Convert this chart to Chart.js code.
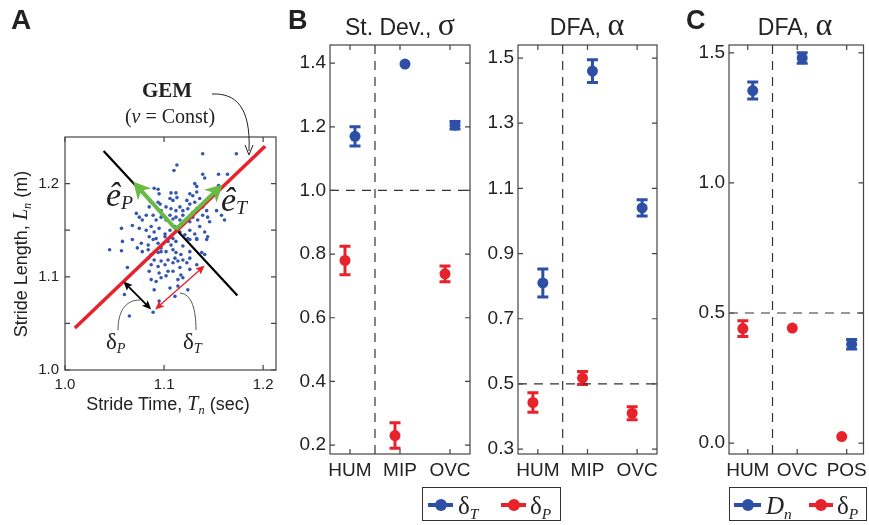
<!DOCTYPE html>
<html>
<head>
<meta charset="utf-8">
<script src="https://cdn.jsdelivr.net/npm/chart.js@4.4.0/dist/chart.umd.min.js"></script>
<style>
body { margin: 0; background: #fff; }
#wrap { position: relative; width: 869px; height: 525px; overflow: hidden; font-family: 'Liberation Sans', Arial, sans-serif; color: #222; }
canvas { position: absolute; left: 0; top: 0; }
svg { position: absolute; left: 0; top: 0; }
.t { position: absolute; line-height: 1; white-space: nowrap; }
.serif { font-family: 'Liberation Serif', 'Times New Roman', serif; }
.sub { font-size: 0.62em; vertical-align: -0.3em; line-height: 0; font-style: italic; }
.big { line-height: 0; font-family: 'Liberation Serif', 'Times New Roman', serif; }
.lg { position: absolute; border: 1px solid #333; background: #fff; box-sizing: border-box; }
.lg .ln { position: absolute; height: 4px; }
.lg .dot { position: absolute; width: 12px; height: 12px; border-radius: 50%; }
</style>
</head>
<body>
<div id="wrap">
  <canvas id="cA" width="869" height="525"></canvas>
  <canvas id="cB1" width="869" height="525"></canvas>
  <canvas id="cB2" width="869" height="525"></canvas>
  <canvas id="cC" width="869" height="525"></canvas>

  <svg width="869" height="525">
    <path d="M212,94 C235,93 251,106 249,151" fill="none" stroke="#222" stroke-width="1"/>
    <path d="M245,145 L249,155 L253,145" fill="none" stroke="#222" stroke-width="1"/>
    <path d="M140,300 C125,300 118,312 118,330" fill="none" stroke="#555" stroke-width="1"/>
    <path d="M180,293 C192,294 196,310 196,330" fill="none" stroke="#555" stroke-width="1"/>
  </svg>

  <!-- panel letters -->
  <div class="t" style="left:11px;top:6px;font-size:28px;font-weight:bold;">A</div>
  <div class="t" style="left:288px;top:7px;font-size:27px;font-weight:bold;">B</div>
  <div class="t" style="left:686px;top:7px;font-size:27px;font-weight:bold;">C</div>

  <!-- panel A annotations -->
  <div class="t serif" style="left:167px;top:80px;font-size:21px;font-weight:bold;transform:translateX(-50%);">GEM</div>
  <div class="t serif" style="left:170px;top:106px;font-size:20px;transform:translateX(-50%);">(<i>v</i> = Const)</div>
  <div class="t serif" style="left:106px;top:178px;font-size:34px;"><i>ê</i><span class="sub" style="font-size:0.58em;vertical-align:-0.15em;">P</span></div>
  <div class="t serif" style="left:221px;top:183px;font-size:34px;"><i>ê</i><span class="sub" style="font-size:0.58em;vertical-align:-0.15em;">T</span></div>
  <div class="t serif" style="left:106px;top:330px;font-size:23px;">δ<span class="sub">P</span></div>
  <div class="t serif" style="left:183px;top:330px;font-size:23px;">δ<span class="sub">T</span></div>
  <div class="t" style="left:168px;top:395px;font-size:18px;transform:translateX(-50%);">Stride Time, <span class="serif" style="font-style:italic;font-size:20px;line-height:0;">T<span class="sub">n</span></span> (sec)</div>
  <div class="t" style="left:21px;top:254px;font-size:18px;transform:translate(-50%,-50%) rotate(-90deg);">Stride Length, <span class="serif" style="font-style:italic;font-size:20px;line-height:0;">L<span class="sub">n</span></span> (m)</div>

  <!-- titles -->
  <div class="t" style="left:400px;top:16px;font-size:23px;transform:translateX(-50%);">St. Dev., <span class="big" style="font-size:32px;">σ</span></div>
  <div class="t" style="left:587px;top:16px;font-size:23px;transform:translateX(-50%);">DFA, <span class="big" style="font-size:32px;">α</span></div>
  <div class="t" style="left:795px;top:16px;font-size:23px;transform:translateX(-50%);">DFA, <span class="big" style="font-size:32px;">α</span></div>

  <!-- legends -->
  <div class="lg" style="left:422px;top:487px;width:139px;height:34px;">
    <div class="ln" style="left:5px;top:15px;width:25px;background:#2e4fa6;"></div>
    <div class="dot" style="left:12px;top:11px;background:#2e4fa6;"></div>
    <div class="t serif" style="left:35px;top:5px;font-size:25px;">δ<span class="sub">T</span></div>
    <div class="ln" style="left:78px;top:15px;width:25px;background:#e8222a;"></div>
    <div class="dot" style="left:85px;top:11px;background:#e8222a;"></div>
    <div class="t serif" style="left:107px;top:5px;font-size:25px;">δ<span class="sub">P</span></div>
  </div>
  <div class="lg" style="left:729px;top:487px;width:138px;height:34px;">
    <div class="ln" style="left:4px;top:15px;width:27px;background:#2e4fa6;"></div>
    <div class="dot" style="left:12px;top:11px;background:#2e4fa6;"></div>
    <div class="t serif" style="left:36px;top:5px;font-size:25px;"><i>D</i><span class="sub">n</span></div>
    <div class="ln" style="left:79px;top:15px;width:24px;background:#e8222a;"></div>
    <div class="dot" style="left:85px;top:11px;background:#e8222a;"></div>
    <div class="t serif" style="left:107px;top:5px;font-size:25px;">δ<span class="sub">P</span></div>
  </div>
</div>

<script>
// Panel A: stride time / stride length of each stride
const strideT = [1.139,1.173,1.113,1.110,1.139,1.155,1.164,1.141,1.131,1.133,1.155,1.090,1.094,1.095,1.107,1.112,1.126,1.129,1.133,1.094,1.096,1.106,1.109,1.113,1.123,1.126,1.131,1.136,1.085,1.097,1.102,
  1.107,1.112,1.116,1.119,1.124,1.129,1.133,1.139,1.143,1.072,1.075,1.078,1.082,
  1.089,1.092,1.097,1.102,1.106,1.109,1.112,1.116,1.119,1.123,1.126,1.129,1.134,1.139,1.144,1.146,1.153,1.158,1.161,1.057,
  1.068,1.075,1.082,1.087,1.090,1.095,1.101,1.106,1.111,1.116,1.121,1.126,1.131,1.136,1.141,1.144,
  1.085,1.092,1.101,1.109,1.124,1.133,
  1.058,1.068,1.077,1.084,1.089,1.094,1.097,1.104,1.107,1.112,1.119,1.126,1.133,1.143,
  1.045,1.057,1.073,1.078,1.084,1.087,1.094,1.097,1.102,1.109,1.112,1.117,1.126,1.138,1.141,
  1.084,1.090,1.097,1.104,1.111,1.114,1.119,1.126,
  1.087,1.094,1.101,1.109,1.116,1.123,1.133,
  1.063,1.085,1.095,1.104,1.109,1.117,1.126,
  1.087,1.092,1.097,1.102,1.114,1.119,
  1.090,1.106,1.114,1.124,
  1.060,1.111,
  1.095,
  1.065,
  1.089];
const strideL = [1.232,1.232,1.220,1.214,1.210,1.210,1.210,1.206,1.200,1.197,1.198,1.195,1.194,1.189,1.190,1.190,1.189,1.187,1.191,1.180,1.178,1.184,1.182,1.185,1.182,1.178,1.180,1.184,1.175,1.171,1.175,
  1.173,1.171,1.175,1.171,1.173,1.169,1.173,1.175,1.171,1.168,1.164,1.161,1.166,
  1.166,1.161,1.164,1.161,1.166,1.162,1.164,1.161,1.166,1.162,1.159,1.164,1.161,1.166,1.164,1.159,1.171,1.166,1.161,1.152,
  1.155,1.152,1.150,1.154,1.148,1.152,1.146,1.150,1.154,1.148,1.145,1.150,1.146,1.154,1.148,1.143,
  1.143,1.141,1.143,1.141,1.141,1.141,
  1.138,1.140,1.136,1.134,1.140,1.136,1.131,1.138,1.134,1.138,1.133,1.140,1.140,1.140,
  1.129,1.128,1.131,1.127,1.129,1.124,1.126,1.127,1.127,1.129,1.126,1.124,1.127,1.126,1.124,
  1.120,1.118,1.117,1.118,1.120,1.117,1.118,1.120,
  1.113,1.111,1.113,1.115,1.110,1.115,1.113,
  1.110,1.106,1.104,1.106,1.106,1.102,1.108,
  1.097,1.095,1.099,1.101,1.097,1.099,
  1.086,1.088,1.090,1.086,
  1.081,1.079,
  1.074,
  1.058,
  1.062];
const gemT = [1.01, 1.202], gemL = [1.045, 1.240];      // GEM line (v = const)
const perpT = [1.039, 1.174], perpL = [1.235, 1.080];   // perpendicular line
const meanTL = [1.112, 1.151];
const ePtip = [1.069, 1.202], eTtip = [1.159, 1.199];
const dPfrom = [1.059, 1.095], dPto = [1.087, 1.065];
const dTfrom = [1.091, 1.065], dTto = [1.141, 1.112];

// Panel B: HUM / MIP / OVC
const bCats = ['HUM', 'MIP', 'OVC'];
const sdT = [1.17, 1.397, 1.205], sdTErr = [0.03, 0, 0.012];
const sdP = [0.78, 0.23, 0.738], sdPErr = [0.045, 0.04, 0.025];
const dfaT = [0.81, 1.46, 1.04], dfaTErr = [0.043, 0.035, 0.025];
const dfaP = [0.443, 0.518, 0.41], dfaPErr = [0.03, 0.02, 0.02];

// Panel C: HUM / OVC / POS
const cCats = ['HUM', 'OVC', 'POS'];
const cDn = [1.355, 1.48, 0.38], cDnErr = [0.033, 0.02, 0.018];
const cP = [0.44, 0.442, 0.025], cPErr = [0.03, 0, 0];

const BLUE = '#2e4fa6', RED = '#e8222a', GREEN = '#6ab944';
const W = 869, H = 525;
const FONT = "'Liberation Sans', Arial, sans-serif";

function xy(xs, ys) { return xs.map((v, i) => ({x: v, y: ys[i]})); }
function atCats(vals, off) { return vals.map((v, i) => ({x: i + 1 + off, y: v})); }

// box with inward ticks on all four sides
const frame = {
  id: 'frame',
  afterDraw(chart) {
    const {ctx, chartArea: a, scales: {x, y}} = chart;
    const len = 5;
    ctx.save();
    ctx.strokeStyle = '#444';
    ctx.lineWidth = 1.2;
    ctx.beginPath();
    y.ticks.forEach(t => {
      const p = y.getPixelForValue(t.value);
      ctx.moveTo(a.left, p); ctx.lineTo(a.left + len, p);
      ctx.moveTo(a.right, p); ctx.lineTo(a.right - len, p);
    });
    x.ticks.forEach(t => {
      const p = x.getPixelForValue(t.value);
      ctx.moveTo(p, a.bottom); ctx.lineTo(p, a.bottom - len);
      ctx.moveTo(p, a.top); ctx.lineTo(p, a.top + len);
    });
    ctx.stroke();
    ctx.strokeRect(a.left, a.top, a.width, a.height);
    ctx.restore();
  }
};

function refLines(xs, ys) {
  return {
    id: 'refs',
    beforeDatasetsDraw(chart) {
      const {ctx, chartArea: a, scales: {x, y}} = chart;
      ctx.save();
      ctx.strokeStyle = '#333';
      ctx.lineWidth = 1.2;
      ctx.setLineDash([9, 7]);
      xs.forEach(v => {
        const p = x.getPixelForValue(v);
        ctx.beginPath(); ctx.moveTo(p, a.top); ctx.lineTo(p, a.bottom); ctx.stroke();
      });
      ys.forEach(v => {
        const p = y.getPixelForValue(v);
        ctx.beginPath(); ctx.moveTo(a.left, p); ctx.lineTo(a.right, p); ctx.stroke();
      });
      ctx.restore();
    }
  };
}

const errBars = {
  id: 'errBars',
  beforeDatasetsDraw(chart) {
    const {ctx, scales: {x, y}} = chart;
    chart.data.datasets.forEach(ds => {
      if (!ds.errors) return;
      ctx.save();
      ctx.strokeStyle = ds.backgroundColor;
      ctx.lineWidth = 3;
      ds.data.forEach((p, i) => {
        const e = ds.errors[i];
        if (!e) return;
        const px = x.getPixelForValue(p.x);
        const y1 = y.getPixelForValue(p.y + e), y2 = y.getPixelForValue(p.y - e);
        ctx.beginPath();
        ctx.moveTo(px, y1); ctx.lineTo(px, y2);
        ctx.moveTo(px - 5.5, y1); ctx.lineTo(px + 5.5, y1);
        ctx.moveTo(px - 5.5, y2); ctx.lineTo(px + 5.5, y2);
        ctx.stroke();
      });
      ctx.restore();
    });
  }
};

function drawHead(ctx, x1, y1, x2, y2, len, hw, notch) {
  const a = Math.atan2(y2 - y1, x2 - x1), c = Math.cos(a), s = Math.sin(a);
  ctx.beginPath();
  ctx.moveTo(x2, y2);
  ctx.lineTo(x2 - len * c + hw * s, y2 - len * s - hw * c);
  ctx.lineTo(x2 - len * notch * c, y2 - len * notch * s);
  ctx.lineTo(x2 - len * c - hw * s, y2 - len * s + hw * c);
  ctx.closePath();
  ctx.fill();
}

// arrows in data coordinates
function arrowPlugin(items) {
  return {
    id: 'arrows',
    afterDatasetsDraw(chart) {
      const {ctx, scales: {x, y}} = chart;
      items.forEach(it => {
        const x1 = x.getPixelForValue(it.from[0]), y1 = y.getPixelForValue(it.from[1]);
        const x2 = x.getPixelForValue(it.to[0]), y2 = y.getPixelForValue(it.to[1]);
        const d = Math.hypot(x2 - x1, y2 - y1), ux = (x2 - x1) / d, uy = (y2 - y1) / d;
        const cut = it.len * 0.6;
        ctx.save();
        ctx.strokeStyle = it.color; ctx.fillStyle = it.color; ctx.lineWidth = it.width;
        ctx.beginPath();
        ctx.moveTo(it.both ? x1 + ux * cut : x1, it.both ? y1 + uy * cut : y1);
        ctx.lineTo(x2 - ux * cut, y2 - uy * cut);
        ctx.stroke();
        drawHead(ctx, x1, y1, x2, y2, it.len, it.hw, it.notch);
        if (it.both) drawHead(ctx, x2, y2, x1, y1, it.len, it.hw, it.notch);
        ctx.restore();
      });
    }
  };
}

function makePanel(id, box, xr, yr, xt, yt, xfmt, yfmt, fs, xpad, ypad, datasets, extra) {
  return new Chart(document.getElementById(id), {
    type: 'scatter',
    data: {datasets: datasets},
    options: {
      responsive: false,
      animation: false,
      events: [],
      layout: {padding: {left: box.l - 50, right: W - box.r, top: box.t, bottom: H - box.b - 40}},
      plugins: {legend: {display: false}, tooltip: {enabled: false}},
      scales: {
        x: {
          type: 'linear', min: xr[0], max: xr[1],
          grid: {display: false, drawTicks: false}, border: {display: false},
          afterBuildTicks: s => { s.ticks = xt.map(v => ({value: v})); },
          afterFit: s => { s.height = 40; s.paddingLeft = 0; s.paddingRight = 0; },
          ticks: {callback: xfmt, padding: xpad, autoSkip: false, maxRotation: 0, color: '#222', font: {family: FONT, size: fs}}
        },
        y: {
          type: 'linear', min: yr[0], max: yr[1],
          grid: {display: false, drawTicks: false}, border: {display: false},
          afterBuildTicks: s => { s.ticks = yt.map(v => ({value: v})); },
          afterFit: s => { s.width = 50; s.paddingTop = 0; s.paddingBottom = 0; },
          ticks: {callback: yfmt, padding: ypad, autoSkip: false, color: '#222', font: {family: FONT, size: fs}}
        }
      }
    },
    plugins: [frame, errBars].concat(extra)
  });
}

const fmt1 = v => v.toFixed(1);
const fmtTenth = v => Math.abs(v * 10 - Math.round(v * 10)) < 1e-6 ? v.toFixed(1) : '';

function errSet(vals, errs, off, color) {
  return {data: atCats(vals, off), errors: errs, backgroundColor: color, borderWidth: 0, pointRadius: 5.5};
}

// Panel A
makePanel('cA', {l: 65, r: 276, t: 137, b: 370}, [1.0, 1.213], [1.0, 1.25],
  [1.0, 1.1, 1.2], [1.0, 1.05, 1.1, 1.15, 1.2], fmt1, fmtTenth, 15, 6, 6,
  [
    {type: 'line', data: xy(gemT, gemL), borderColor: RED, borderWidth: 3.5, pointRadius: 0, showLine: true},
    {type: 'line', data: xy(perpT, perpL), borderColor: '#000', borderWidth: 2.2, pointRadius: 0, showLine: true},
    {data: xy(strideT, strideL), backgroundColor: '#3456b0', borderWidth: 0, pointRadius: 1.8}
  ],
  [arrowPlugin([
    {from: meanTL, to: ePtip, color: GREEN, width: 4, len: 17, hw: 9, notch: 0.7},
    {from: meanTL, to: eTtip, color: GREEN, width: 4, len: 17, hw: 9, notch: 0.7},
    {from: dPfrom, to: dPto, color: '#000', width: 1.8, len: 9, hw: 4, notch: 0.8, both: true},
    {from: dTfrom, to: dTto, color: RED, width: 1.4, len: 9, hw: 4, notch: 0.8, both: true}
  ])]);

// Panel B, standard deviation
makePanel('cB1', {l: 330, r: 470, t: 45, b: 454}, [0.6, 3.4], [0.172, 1.457],
  [1, 2, 3], [0.2, 0.4, 0.6, 0.8, 1.0, 1.2, 1.4], v => bCats[v - 1], fmt1, 19, 5, 4,
  [errSet(sdT, sdTErr, 0.1, BLUE), errSet(sdP, sdPErr, -0.1, RED)],
  [refLines([1.5], [1.0])]);

// Panel B, DFA
makePanel('cB2', {l: 518, r: 657, t: 45, b: 454}, [0.6, 3.4], [0.285, 1.54],
  [1, 2, 3], [0.3, 0.5, 0.7, 0.9, 1.1, 1.3, 1.5], v => bCats[v - 1], fmt1, 19, 5, 4,
  [errSet(dfaT, dfaTErr, 0.1, BLUE), errSet(dfaP, dfaPErr, -0.1, RED)],
  [refLines([1.5], [0.5])]);

// Panel C, DFA
makePanel('cC', {l: 729, r: 865, t: 45, b: 454}, [0.62, 3.34], [-0.042, 1.53],
  [1, 2, 3], [0, 0.5, 1.0, 1.5], v => cCats[v - 1], fmt1, 19, 5, 4,
  [errSet(cDn, cDnErr, 0.1, BLUE), errSet(cP, cPErr, -0.1, RED)],
  [refLines([1.5], [0.5])]);
</script>
</body>
</html>
